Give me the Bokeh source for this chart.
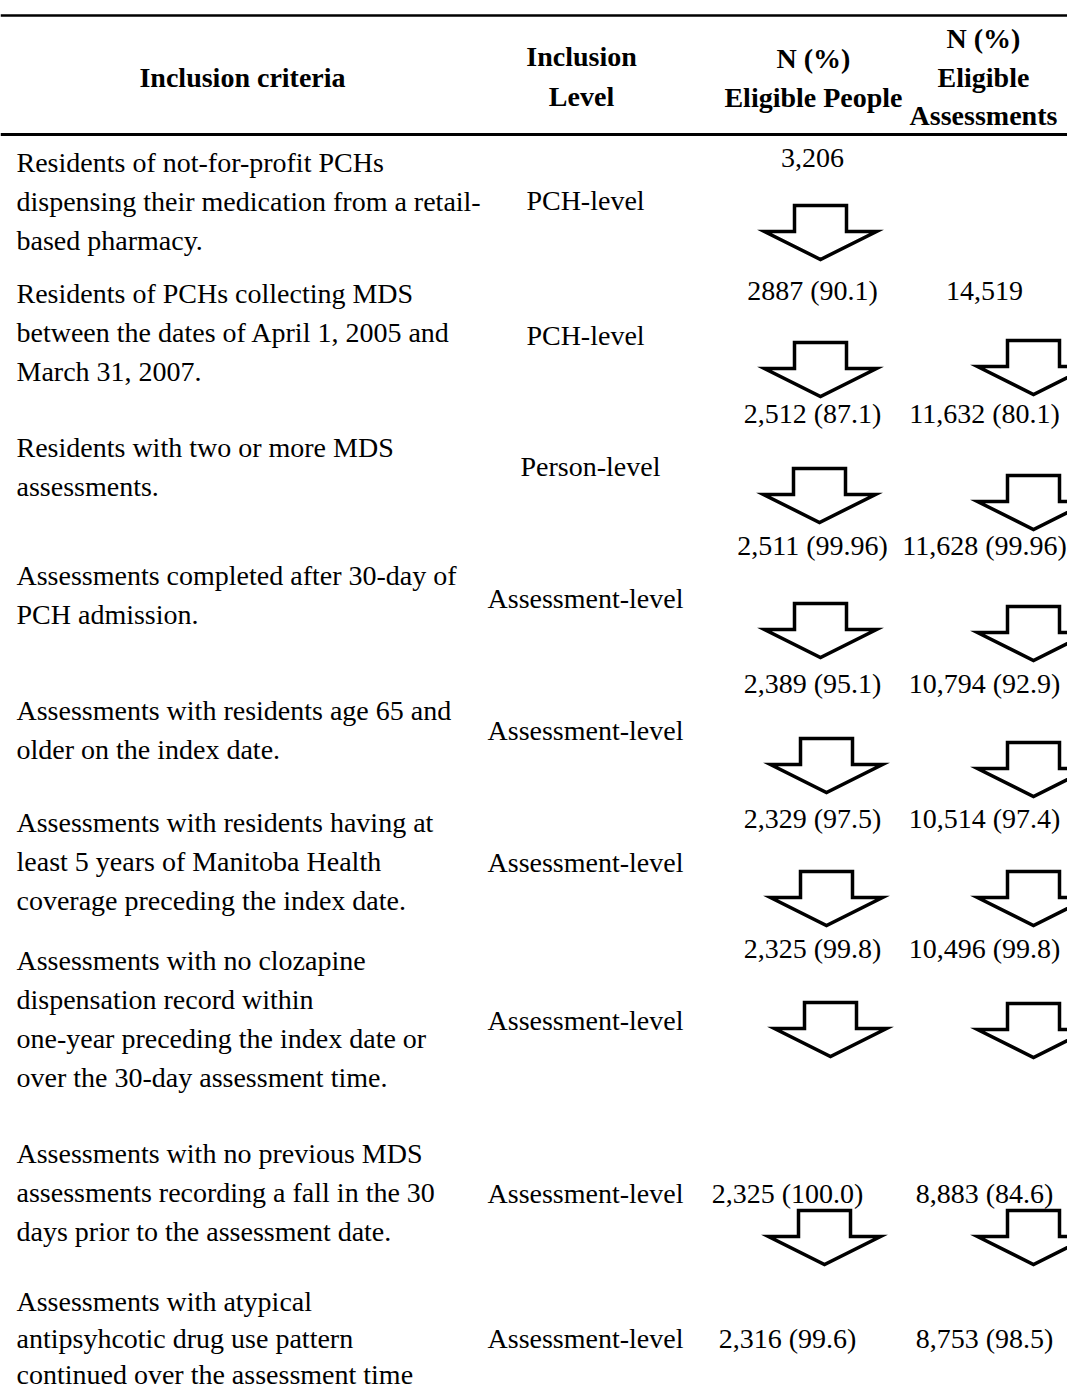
from bokeh.plotting import figure
from bokeh.models import Range1d
from bokeh.core.properties import value
from bokeh.embed import file_html
from bokeh.resources import INLINE

# ---------------- data ----------------
headers = [["Inclusion criteria"], ["Inclusion", "Level"], ["N (%)", "Eligible People"],
           ["N (%)", "Eligible", "Assessments"]]

criteria = [
    ["Residents of not-for-profit PCHs", "dispensing their medication from a retail-", "based pharmacy."],
    ["Residents of PCHs collecting MDS", "between the dates of April 1, 2005 and", "March 31, 2007."],
    ["Residents with two or more MDS", "assessments."],
    ["Assessments completed after 30-day of", "PCH admission."],
    ["Assessments with residents age 65 and", "older on the index date."],
    ["Assessments with residents having at", "least 5 years of Manitoba Health", "coverage preceding the index date."],
    ["Assessments with no clozapine", "dispensation record within", "one-year preceding the index date or",
     "over the 30-day assessment time."],
    ["Assessments with no previous MDS", "assessments recording a fall in the 30", "days prior to the assessment date."],
    ["Assessments with atypical", "antipsyhcotic drug use pattern", "continued over the assessment time"],
]
levels = ["PCH-level", "PCH-level", "Person-level", "Assessment-level", "Assessment-level",
          "Assessment-level", "Assessment-level", "Assessment-level", "Assessment-level"]
people = ["3,206", "2887 (90.1)", "2,512 (87.1)", "2,511 (99.96)", "2,389 (95.1)", "2,329 (97.5)",
          "2,325 (99.8)", "2,325 (100.0)", "2,316 (99.6)"]
assessments = ["", "14,519", "11,632 (80.1)", "11,628 (99.96)", "10,794 (92.9)", "10,514 (97.4)",
               "10,496 (99.8)", "8,883 (84.6)", "8,753 (98.5)"]
# which rows are followed by an arrow in each count column
people_arrow = [True, True, True, True, True, True, True, True, False]
assess_arrow = [False, True, True, True, True, True, True, True, False]

# ---------------- layout (pixel-like coordinates) ----------------
FONT = value("Liberation Serif")
FS = "28px"
crit_y = [162, 293, 447, 575, 710, 822, 960, 1153, 1301]
crit_step = [39, 39, 39, 39, 39, 39, 39, 39, 36.5]
level_y = [200, 335, 466, 598, 730, 862, 1020, 1193, 1338]
val_y = [157, 290, 413, 545, 683, 818, 948, 1193, 1338]
people_x = [812, 812, 812, 812, 812, 812, 812, 787, 787]
assess_x = 984
level_x = [585, 585, 590, 585, 585, 585, 585, 585, 585]
crit_x = 16

arrow_top_p = [205, 342, 468, 603, 738, 871, 1002, 1210, None]
arrow_cx_p = [820, 820, 819, 820, 826, 826, 830, 824, None]
arrow_top_a = [None, 340, 475, 606, 742, 871, 1003, 1210, None]
arrow_cx_a = 1033

p = figure(width=1067, height=1390, x_range=Range1d(0, 1067), y_range=Range1d(1390, 0),
           output_backend="svg", toolbar_location=None, x_axis_type=None, y_axis_type=None,
           min_border=0, outline_line_color=None, background_fill_color="white",
           border_fill_color="white")
p.grid.visible = False

# rules
p.segment(x0=[0, 0], x1=[1075, 1075], y0=[15, 134], y1=[15, 134], line_color="black",
          line_width=[2.5, 3])

# header
hx, hy, ht = [], [], []
head_x = [242, 581, 813, 983]
head_y0 = [77, 56, 58, 38]
head_step = [0, 40, 39, 38.5]
for i, lines in enumerate(headers):
    for j, t in enumerate(lines):
        hx.append(head_x[i]); hy.append(head_y0[i] + j * head_step[i]); ht.append(t)
p.text(x=hx, y=hy, text=ht, text_font=FONT, text_font_size=FS, text_font_style="bold",
       text_align="center", text_baseline="middle", text_color="black")

# criteria column
cx, cy, ct = [], [], []
for i, lines in enumerate(criteria):
    for j, t in enumerate(lines):
        cx.append(crit_x); cy.append(crit_y[i] + j * crit_step[i]); ct.append(t)
p.text(x=cx, y=cy, text=ct, text_font=FONT, text_font_size=FS, text_align="left",
       text_baseline="middle", text_color="black")

# level column
p.text(x=level_x, y=level_y, text=levels, text_font=FONT, text_font_size=FS,
       text_align="center", text_baseline="middle", text_color="black")

# count columns
p.text(x=people_x, y=val_y, text=people, text_font=FONT, text_font_size=FS,
       text_align="center", text_baseline="middle", text_color="black")
p.text(x=[assess_x] * len(assessments), y=val_y, text=assessments, text_font=FONT, text_font_size=FS,
       text_align="center", text_baseline="middle", text_color="black")

# arrows
BW, BH, TW, TH = 26, 26, 56, 28
def arrow(cxv, top):
    xs = [cxv - BW, cxv + BW, cxv + BW, cxv + TW, cxv, cxv - TW, cxv - BW]
    ys = [top, top, top + BH, top + BH, top + BH + TH, top + BH, top + BH]
    return xs, ys

axs, ays = [], []
for i in range(len(people)):
    if people_arrow[i]:
        xs, ys = arrow(arrow_cx_p[i], arrow_top_p[i]); axs.append(xs); ays.append(ys)
    if assess_arrow[i]:
        xs, ys = arrow(arrow_cx_a, arrow_top_a[i]); axs.append(xs); ays.append(ys)
p.patches(xs=axs, ys=ays, fill_color="white", line_color="black", line_width=3.5,
          line_join="miter")

open("out.html", "w").write(file_html(p, INLINE))
